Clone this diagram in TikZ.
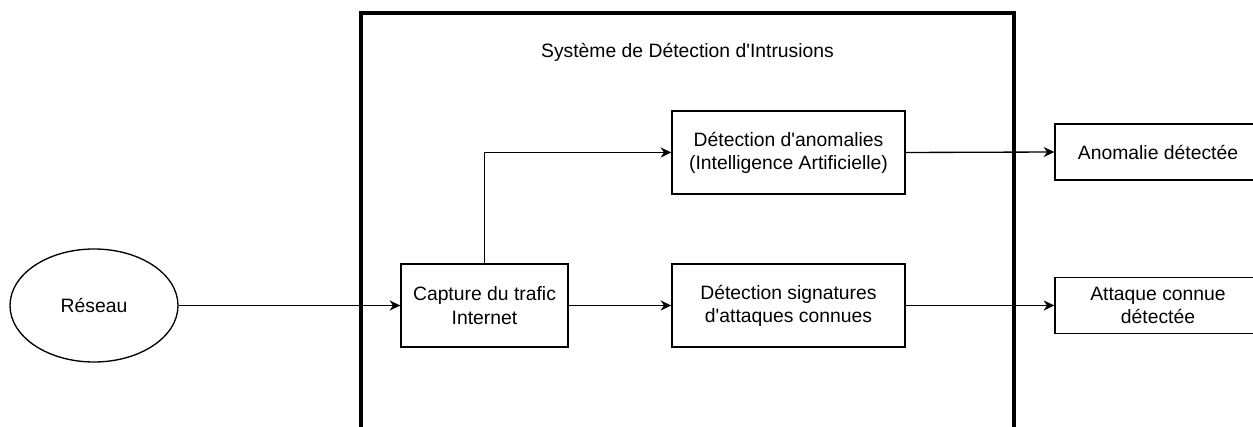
\documentclass[tikz,border=0pt]{standalone}
\usepackage{fontspec}
\setmainfont{Liberation Sans}[Ligatures=TeXOff]
\usetikzlibrary{shapes.geometric,arrows.meta}
\tikzset{
  bloc/.style={draw,line width=1pt,align=center,inner sep=2pt},
  fleche/.style={line width=1pt,-{Stealth[length=8pt,width=7.5pt,inset=2.5pt]}},
}
\begin{document}
\begin{tikzpicture}[x=0.75pt,y=-0.75pt,font=\fontsize{14.5}{17.4}\selectfont]
\clip(0,0)rectangle(1253,427);
\node[draw,line width=3pt,minimum width=653*0.75pt,minimum height=600*0.75pt](ids)at(687.5,313){};
\node(titre)at(687.5,52){Système de Détection d'Intrusions};
\node[ellipse,draw,line width=1pt,inner sep=0pt,minimum width=168*0.75pt,minimum height=113*0.75pt](reseau)at(94,305.5){Réseau};
\node[bloc,minimum width=167*0.75pt,minimum height=83*0.75pt](capture)at(484.5,305.5){Capture du trafic\\Internet};
\node[bloc,minimum width=233*0.75pt,minimum height=83*0.75pt](signature)at(788.5,305.5){Détection signatures\\d'attaques connues};
\node[bloc,minimum width=233*0.75pt,minimum height=83*0.75pt](anomalies)at(788.5,152.5){Détection d'anomalies\\(Intelligence Artificielle)};
\node[bloc,minimum width=206*0.75pt,minimum height=56*0.75pt](anodet)at(1158,152){Anomalie détectée};
\node[bloc,minimum width=206*0.75pt,minimum height=56*0.75pt](attdet)at(1158,305.5){Attaque connue\\détectée};
% liaisons
\draw[fleche](reseau.east)--(capture.west);
\draw[fleche](capture.north)|-(anomalies.west);
\draw[fleche](capture.east)--(signature.west);
\draw[fleche](anomalies.east)--(anodet.west);
\draw[fleche](signature.east)--(attdet.west);
\end{tikzpicture}
\end{document}
